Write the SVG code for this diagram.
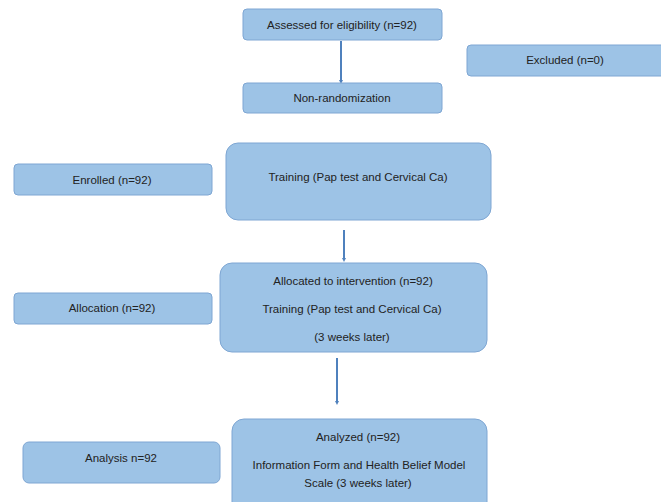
<svg xmlns="http://www.w3.org/2000/svg" width="661" height="502" viewBox="0 0 661 502">
<style>
.box{fill:#9dc3e6;stroke:#7ea6d3;stroke-width:1}
text{font-family:"Liberation Sans",Arial,sans-serif;font-size:11.5px;fill:#222;text-anchor:middle}
.arr{stroke:#4f81bd;stroke-width:2;fill:none;marker-end:url(#ah)}
</style>
<defs>
<marker id="ah" markerWidth="4" markerHeight="4" refX="2" refY="2" orient="auto" markerUnits="userSpaceOnUse">
<path d="M0,0 L4,2 L0,4 z" fill="#4f81bd"/>
</marker>
</defs>
<rect width="661" height="502" fill="#fff"/>
<g id="connectors">
<line class="arr" x1="341" y1="41" x2="341" y2="82"/>
<line class="arr" x1="344" y1="230" x2="344" y2="260"/>
<line class="arr" x1="337" y1="358" x2="337" y2="403"/>
</g>
<g id="assessed">
<rect class="box" x="243" y="9" width="199" height="31" rx="4"/>
<text x="342" y="29">Assessed for eligibility (n=92)</text>
</g>
<g id="nonrandom">
<rect class="box" x="243" y="83" width="199" height="30" rx="4"/>
<text x="342" y="102">Non-randomization</text>
</g>
<g id="excluded">
<rect class="box" x="467" y="45" width="200" height="31" rx="4"/>
<text x="565" y="64">Excluded (n=0)</text>
</g>
<g id="enrolled">
<rect class="box" x="14" y="164" width="198" height="31" rx="4"/>
<text x="112" y="184">Enrolled (n=92)</text>
</g>
<g id="training">
<rect class="box" x="226" y="143" width="265" height="77" rx="12"/>
<text x="358" y="181">Training (Pap test and Cervical Ca)</text>
</g>
<g id="allocation">
<rect class="box" x="14" y="293" width="198" height="31" rx="4"/>
<text x="112" y="312">Allocation (n=92)</text>
</g>
<g id="allocated">
<rect class="box" x="220" y="263" width="267" height="89" rx="12"/>
<text x="353" y="285">Allocated to intervention (n=92)</text>
<text x="352" y="313">Training (Pap test and Cervical Ca)</text>
<text x="352" y="341">(3 weeks later)</text>
</g>
<g id="analysis">
<rect class="box" x="23" y="442" width="197" height="41" rx="6"/>
<text x="121" y="462">Analysis n=92</text>
</g>
<g id="analyzed">
<rect class="box" x="232" y="419" width="255" height="95" rx="12"/>
<text x="358" y="441">Analyzed (n=92)</text>
<text x="359" y="469">Information Form and Health Belief Model</text>
<text x="358" y="487">Scale (3 weeks later)</text>
</g>
</svg>
